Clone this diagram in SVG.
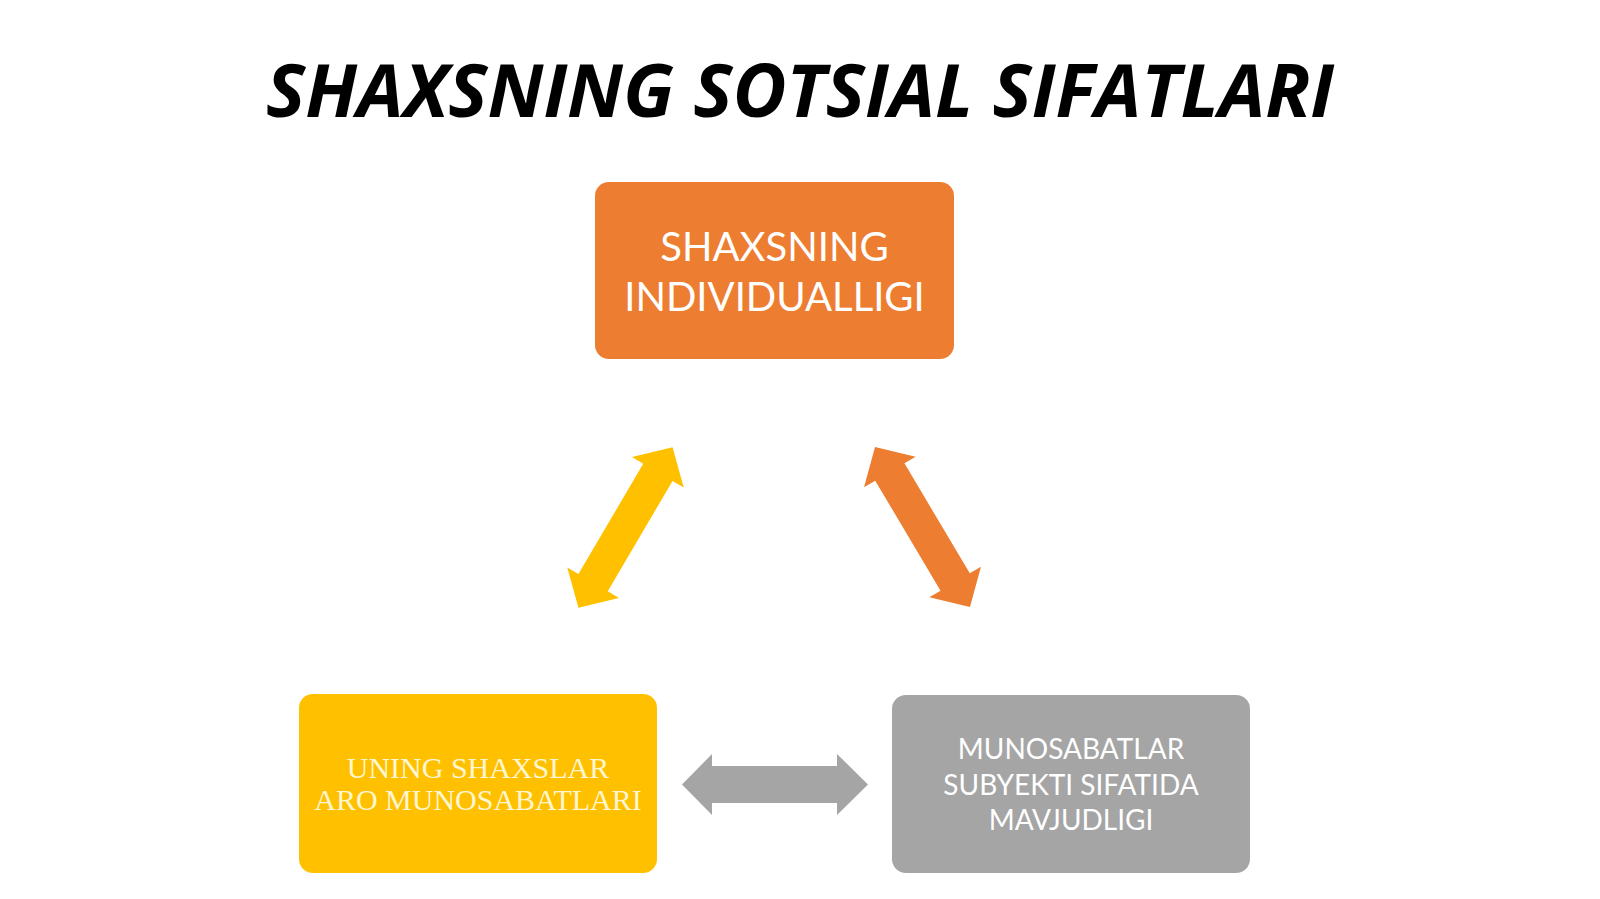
<svg xmlns="http://www.w3.org/2000/svg" width="1600" height="899" viewBox="0 0 1600 899">
  <style>
    .title { font-family: "Open Sans", "DejaVu Sans", sans-serif; font-weight: 700; font-style: italic; font-size: 74px; fill: #000000; }
    .lbl { font-family: Lato, "Liberation Sans", sans-serif; fill: #FFFFFF; text-anchor: middle; }
    .ser { font-family: "Liberation Serif", "DejaVu Serif", serif; fill: #FFF6D2; text-anchor: middle; }
  </style>
  <defs>
    <path id="dbl" d="M -93 0 L -64 -30 L -64 -17 L 64 -17 L 64 -30 L 93 0 L 64 30 L 64 17 L -64 17 L -64 30 Z"/>
  </defs>
  <rect width="1600" height="899" fill="#FFFFFF"/>
  <text class="title" x="800" y="117" text-anchor="middle">SHAXSNING SOTSIAL SIFATLARI</text>

  <g id="node-top">
    <rect x="595" y="182" width="359" height="177" rx="14" fill="#ED7D31"/>
    <text class="lbl" x="774.5" y="261" font-size="40">SHAXSNING</text>
    <text class="lbl" x="774.5" y="311" font-size="40">INDIVIDUALLIGI</text>
  </g>

  <g id="node-left">
    <rect x="299" y="694" width="358" height="179" rx="14" fill="#FFC000"/>
    <text class="ser" x="478" y="778" font-size="30">UNING SHAXSLAR</text>
    <text class="ser" x="478" y="810" font-size="30">ARO MUNOSABATLARI</text>
  </g>

  <g id="node-right">
    <rect x="892" y="695" width="358" height="178" rx="14" fill="#A5A5A5"/>
    <text class="lbl" x="1071" y="759" font-size="28">MUNOSABATLAR</text>
    <text class="lbl" x="1071" y="795" font-size="28">SUBYEKTI SIFATIDA</text>
    <text class="lbl" x="1071" y="830" font-size="28">MAVJUDLIGI</text>
  </g>

  <g id="connectors">
    <use href="#dbl" fill="#FFC000" transform="translate(625.5 527.5) rotate(-59.6)"/>
    <use href="#dbl" fill="#ED7D31" transform="translate(922.5 527) rotate(59.3)"/>
    <path d="M 682 784.5 L 712 754 L 712 766 L 837 766 L 837 754 L 868 784.5 L 837 815 L 837 803 L 712 803 L 712 815 Z" fill="#A5A5A5"/>
  </g>
</svg>
